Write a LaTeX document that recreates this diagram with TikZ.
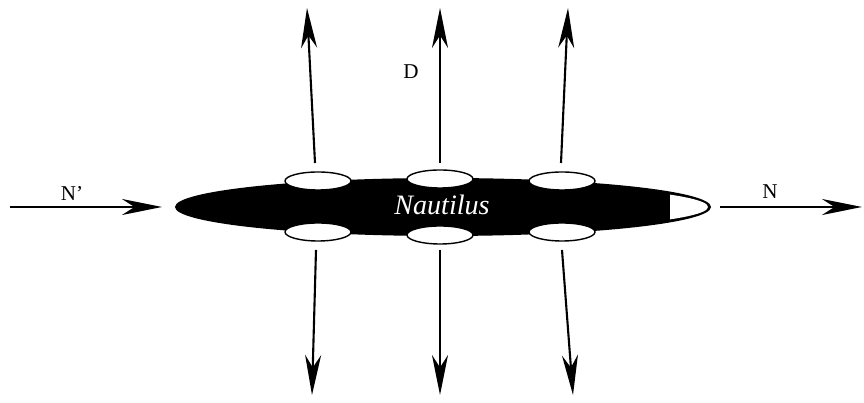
\documentclass[tikz,border=0pt]{standalone}
\usepackage{fontspec}
\setmainfont{Liberation Serif}
\usepackage{tikz}
\usetikzlibrary{arrows.meta, shapes.geometric, calc}
\tikzset{
  hullbody/.style={ellipse, fill=black, inner sep=0pt,
    minimum width=10.72cm, minimum height=1.16cm},
  port/.style={ellipse, draw=black, line width=0.8pt, fill=white, inner sep=0pt,
    minimum width=1.32cm, minimum height=0.36cm},
  flow/.style={line width=1.2pt, -{Stealth[length=0.8cm, width=0.32cm, inset=0.25cm]}},
  lbl/.style={font=\fontsize{12}{14}\selectfont}
}

\begin{document}
\begin{tikzpicture}[x=1cm, y=1cm]
\useasboundingbox (0,0) rectangle (17.28,8.06);

% ---- hull ----
\node[hullbody] (hull) at (8.86,3.92) {};
\node[white, font=\fontsize{16}{18}\selectfont\itshape] (name) at (8.84,3.96) {Nautilus};
% white nose at the front
\begin{scope}
  \clip (13.4,3.0) rectangle (14.6,4.8);
  \fill[white] (hull.center) ellipse [x radius=5.30cm, y radius=0.48cm];
\end{scope}

% ---- ports, top and bottom ----
\node[port] (t1) at (6.36,4.44) {};
\node[port] (t2) at (8.80,4.48) {};
\node[port] (t3) at (11.24,4.44) {};
\node[port] (b1) at (6.36,3.42) {};
\node[port] (b2) at (8.80,3.36) {};
\node[port] (b3) at (11.24,3.42) {};

% ---- outflow, up and down ----
\foreach \n/\xa/\xb in {1/6.30/6.14, 2/8.80/8.80, 3/11.22/11.36}{
  \coordinate (us\n) at (\xa,4.80);
  \coordinate (ue\n) at (\xb,7.90);
  \draw[flow] (us\n) -- (ue\n);
}
\foreach \n/\xa/\xb in {1/6.32/6.24, 2/8.80/8.80, 3/11.24/11.46}{
  \coordinate (ds\n) at (\xa,3.06);
  \coordinate (de\n) at (\xb,0.16);
  \draw[flow] (ds\n) -- (de\n);
}
\node[lbl] (dlbl) at (8.22,6.62) {D};

% ---- inflow and heading ----
\coordinate (inA) at (0.20,3.92);
\coordinate (inB) at (3.24,3.92);
\draw[flow] (inA) -- (inB);
\node[lbl] (nin) at (1.44,4.20) {N'};
\coordinate (outA) at (14.40,3.92);
\coordinate (outB) at (17.24,3.92);
\draw[flow] (outA) -- (outB);
\node[lbl] (nout) at (15.40,4.22) {N};
\end{tikzpicture}
\end{document}
